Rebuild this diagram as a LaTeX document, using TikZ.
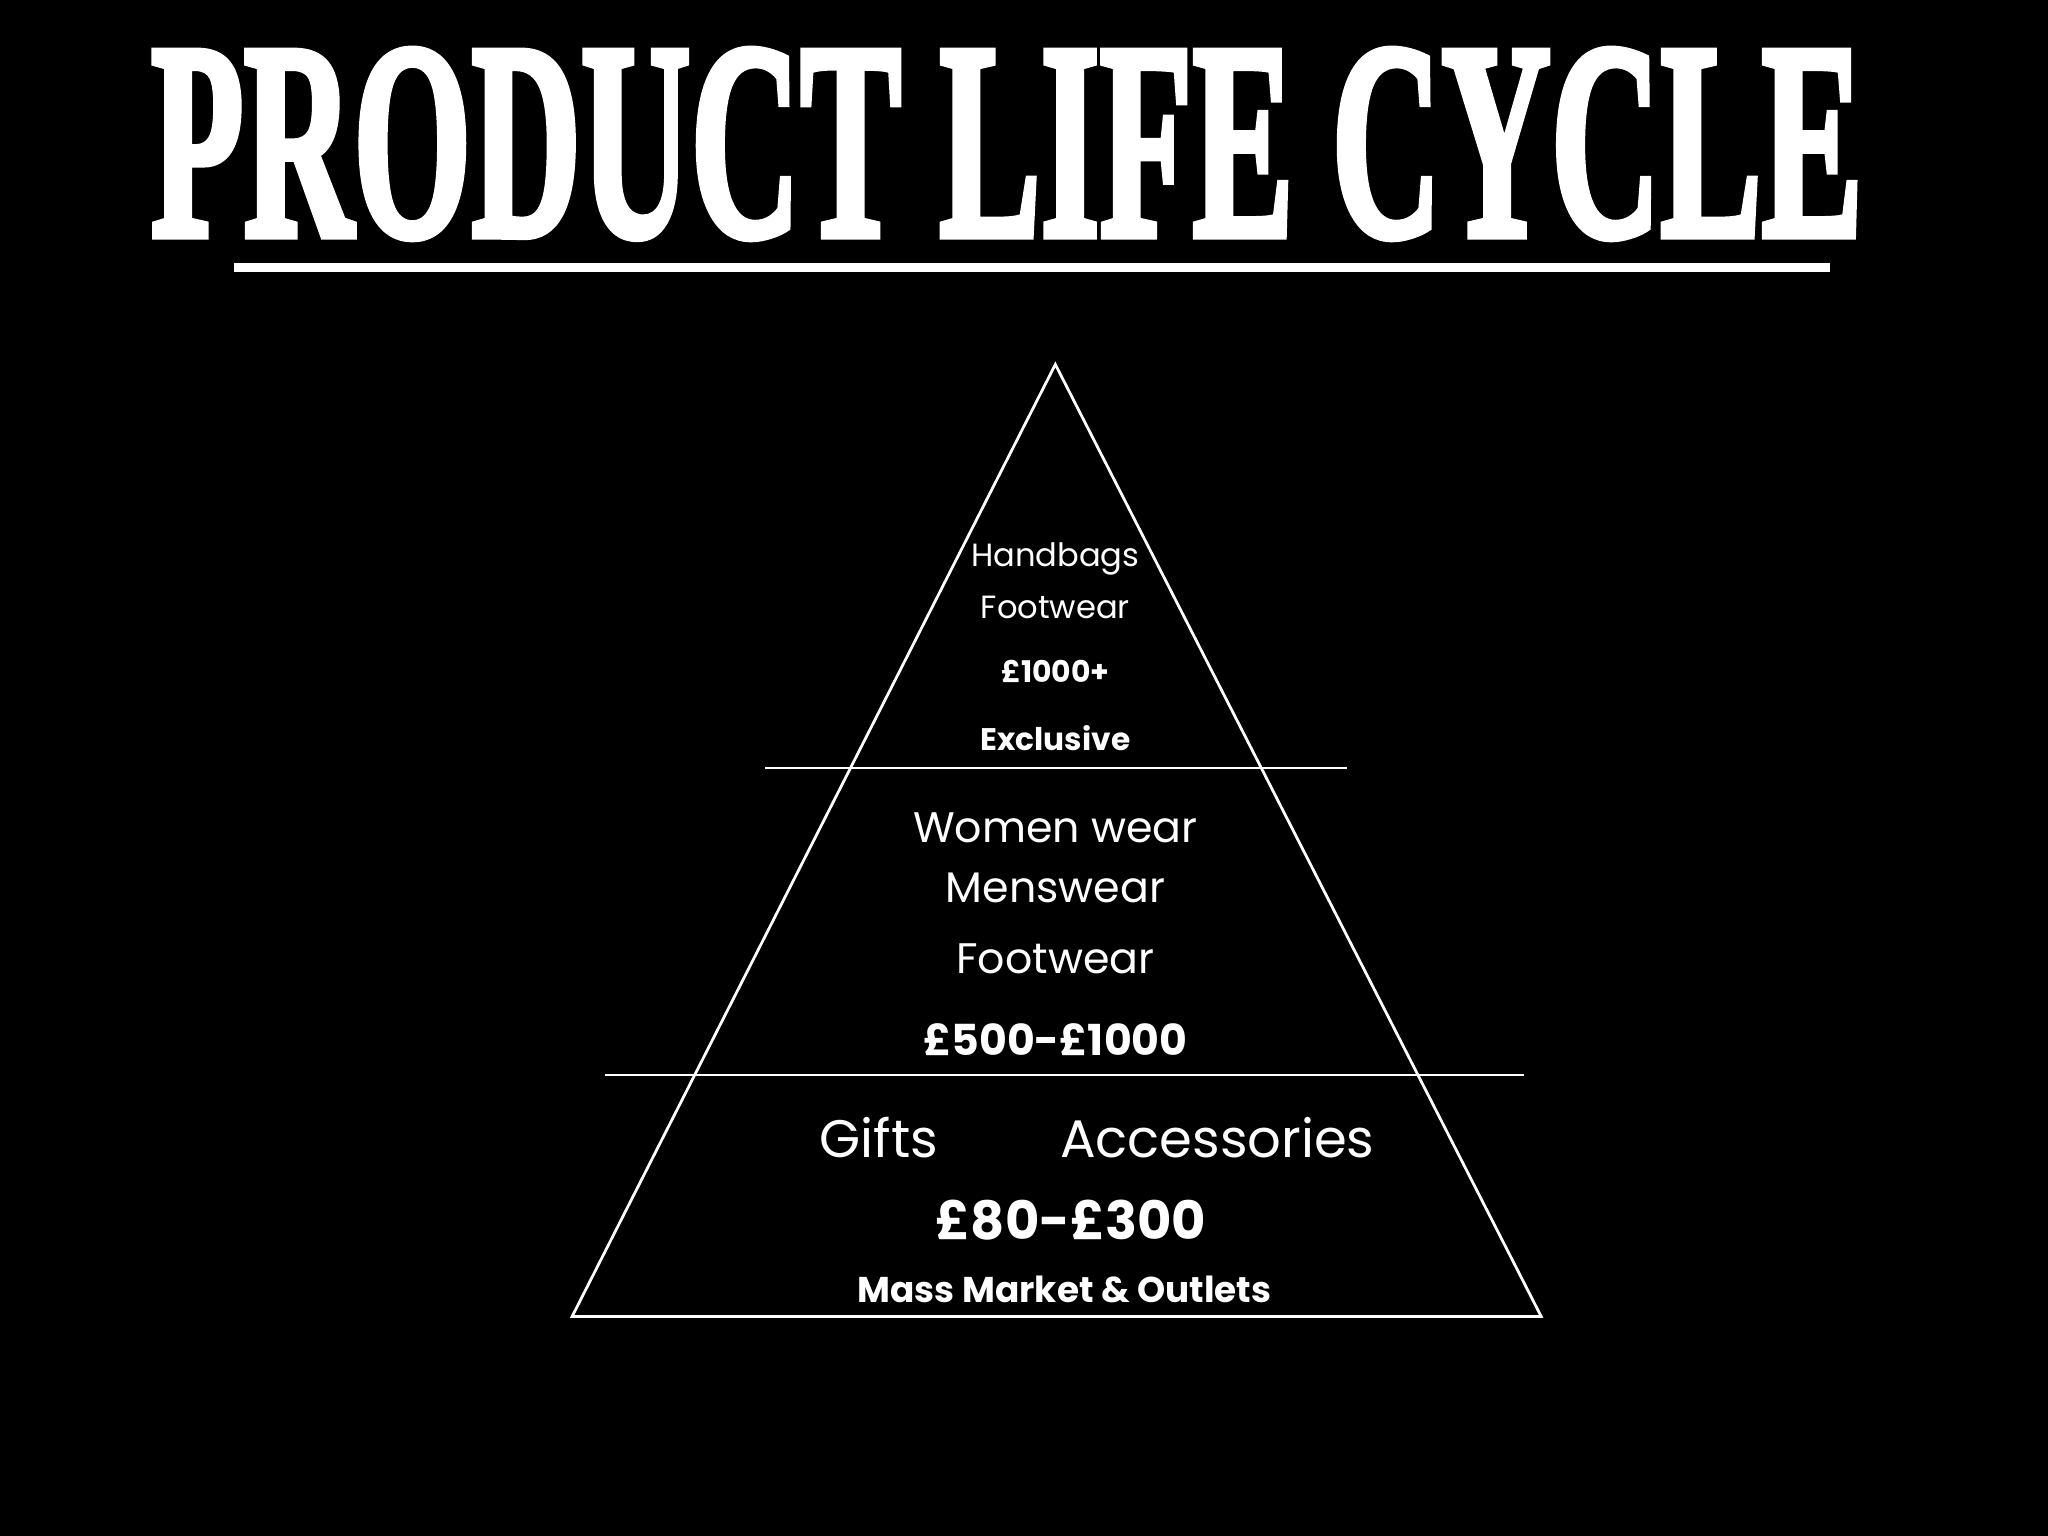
\documentclass[tikz,border=0pt]{standalone}
\usepackage{fontspec}
\setmainfont{Poppins}
\newfontfamily\titlefont[BoldFeatures={FakeBold=3}]{Liberation Serif}
\begin{document}
\begin{tikzpicture}[x=0.01cm,y=-0.01cm,
  lbl/.style={text=white,inner sep=0pt,anchor=center},
  edge/.style={draw=white,line width=0.6pt}]
\fill[black] (0,0) rectangle (1568,1176);
\useasboundingbox (0,0) rectangle (1568,1176);
\node[lbl,anchor=south] (title) at (771,183) {\resizebox{13.1cm}{1.42cm}{\titlefont\bfseries PRODUCT LIFE CYCLE}};
\coordinate (ul1) at (179,205); \coordinate (ul2) at (1401,205);
\draw[white,line width=2pt] (ul1) -- (ul2);
\coordinate (apex) at (808,279); \coordinate (bl) at (438,1008); \coordinate (br) at (1180,1008);
\draw[edge] (apex) -- (bl) -- (br) -- cycle;
\coordinate (a1) at (586,588); \coordinate (a2) at (1031,588);
\coordinate (b1) at (463,823); \coordinate (b2) at (1167,823);
\draw[edge] (a1) -- (a2);
\draw[edge] (b1) -- (b2);
\node[lbl] (t1) at (808,428) {\fontsize{7}{8}\selectfont Handbags};
\node[lbl] (t2) at (808,465) {\fontsize{7}{8}\selectfont Footwear};
\node[lbl] (t3) at (808,514) {\fontsize{6.5}{8}\selectfont\bfseries £1000+};
\node[lbl] (t4) at (808,565) {\fontsize{6.8}{8}\selectfont\bfseries Exclusive};
\node[lbl] (m1) at (808,634) {\fontsize{9.3}{11}\selectfont Women wear};
\node[lbl] (m2) at (808,680) {\fontsize{9.3}{11}\selectfont Menswear};
\node[lbl] (m3) at (808,734) {\fontsize{9.3}{11}\selectfont Footwear};
\node[lbl] (m4) at (808,796) {\fontsize{9.3}{11}\selectfont\bfseries £500-£1000};
\node[lbl] (g1) at (673,871) {\fontsize{11.5}{13}\selectfont Gifts};
\node[lbl] (g2) at (932,871) {\fontsize{11.5}{13}\selectfont Accessories};
\node[lbl] (g3) at (820,934) {\fontsize{11.5}{13}\selectfont\bfseries £80-£300};
\node[lbl] (g4) at (815,987) {\fontsize{7.8}{9}\selectfont\bfseries Mass Market \& Outlets};
\end{tikzpicture}
\end{document}
